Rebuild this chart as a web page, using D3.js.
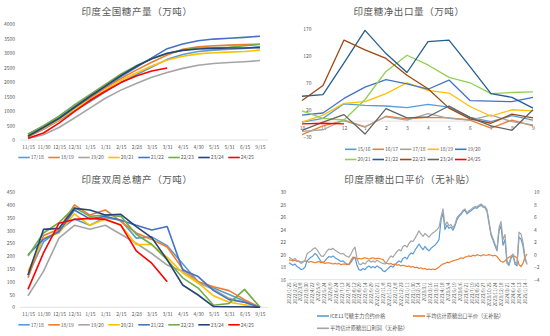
<!DOCTYPE html>
<html>
<head>
<meta charset="utf-8">
<script src="https://cdn.jsdelivr.net/npm/d3@7"></script>
<style>
  body { margin: 0; background: #fff; }
  svg { display: block; font-family: "Noto Sans CJK SC", "Noto Sans", sans-serif; }
</style>
</head>
<body>
<svg id="chart" width="550" height="336"></svg>
<script>

///// Data

// half-month periods (panels 1 and 3)
let periodLabels = ["11/15", "11/30", "12/15", "12/31", "1/15", "1/31", "2/15", "2/28",
    "3/15", "3/31", "4/15", "4/30", "5/15", "5/31", "6/15", "9/15"];
let prodSeasons = ["17/18", "18/19", "19/20", "20/21", "21/22", "22/23", "23/24", "24/25"];

// cumulative production, 10k t
let cum1718 = [120, 370, 670, 1010, 1320, 1660, 1980, 2250, 2520, 2780, 2950, 3050, 3100, 3130, 3160, 3220];
let cum1819 = [110, 390, 700, 1090, 1440, 1800, 2120, 2410, 2680, 2930, 3130, 3210, 3250, 3270, 3290, 3300];
let cum1920 = [50, 180, 430, 760, 1100, 1440, 1720, 1950, 2160, 2330, 2470, 2580, 2640, 2670, 2700, 2740];
let cum2021 = [140, 410, 700, 1060, 1380, 1730, 2060, 2310, 2550, 2760, 2890, 2970, 3010, 3030, 3050, 3100];
let cum2122 = [200, 470, 770, 1150, 1500, 1850, 2190, 2510, 2830, 3150, 3310, 3420, 3480, 3510, 3540, 3580];
let cum2223 = [200, 490, 820, 1210, 1560, 1920, 2270, 2560, 2800, 2980, 3100, 3170, 3190, 3200, 3250, 3300];
let cum2324 = [130, 430, 740, 1120, 1500, 1860, 2220, 2540, 2800, 2990, 3090, 3140, 3160, 3170, 3175, 3185];
let cum2425 = [60, 240, 580, 980, 1360, 1680, 1980, 2210, 2380, 2480];

// biweekly production, 10k t
let bi1718 = [125, 255, 300, 345, 320, 350, 340, 270, 275, 240, 170, 100, 75, 50, 25, 0];
let bi1819 = [115, 280, 305, 400, 360, 380, 335, 290, 265, 235, 150, 100, 80, 65, 30, 0];
let bi1920 = [45, 140, 270, 320, 305, 320, 285, 250, 210, 165, 140, 95, 70, 35, 20, 0];
let bi2021 = [140, 270, 290, 365, 320, 345, 320, 245, 245, 195, 135, 95, 45, 20, 10, 0];
let bi2122 = [205, 265, 295, 380, 345, 355, 340, 320, 302, 315, 146, 120, 65, 30, 20, 0];
let bi2223 = [200, 290, 330, 390, 355, 360, 355, 285, 245, 185, 115, 75, 8, 15, 70, 0];
let bi2324 = [126, 304, 308, 386, 380, 360, 363, 315, 272, 185, 87, 48, 3, 2, 2, 0];
let bi2425 = [70, 212, 328, 343, 347, 343, 321, 220, 172, 100];

let cumTicks = [0, 500, 1000, 1500, 2000, 2500, 3000, 3500, 4000];
let biTicks = [0, 50, 100, 150, 200, 250, 300, 350, 400, 450];

// net exports by month, 10k t
let months = ["10", "11", "12", "1", "2", "3", "4", "5", "6", "7", "8", "9"];
let exportSeasons = ["15/16", "16/17", "17/18", "18/19", "19/20", "20/21", "21/22", "22/23", "23/24", "24/25"];
let exp1516 = [-2, 5, 32, 29, 28, 25, 31, 26, 7, -1, 10, 2];
let exp1617 = [-25, -9, 1, -11, 9, 4, 7, 6, 2, -13, 2, -9];
let exp1718 = [-19, -16, 2, -10, 8, 2, 14, 5, 2, 11, -1, -7];
let exp1819 = [-2, 11, 33, 36, 51, 71, 57, 52, 27, 9, 21, 19];
let exp1920 = [11, 15, 42, 63, 77, 69, 59, 76, 38, 37, 36, 44];
let exp2021 = [19, 5, 2, 40, 92, 122, 104, 81, 71, 51, 53, 54];
let exp2122 = [46, 49, 108, 168, 125, 90, 147, 150, 101, 51, 44, 24];
let exp2223 = [38, 66, 150, 132, 116, 85, 60, 24, 4, -4, 13, 6];
let exp2324 = [-17, -2, 12, -24, 23, 6, 8, 28, 7, -9, -17, 21];
let exp2425 = [-5, -4, -5];
let expTicks = [-30, 20, 70, 120, 170];

// export parity: ICE No.11 (c/lb), parity price (c/lb), profit (c/lb, right axis)
let priceDates = ["2022/1/25", "2022/2/20", "2022/3/8", "2022/3/30", "2022/4/22", "2022/5/9", "2022/5/24",
    "2022/6/9", "2022/6/24", "2022/7/13", "2022/7/28", "2022/8/12", "2022/8/29", "2022/9/14", "2022/9/29",
    "2022/10/21", "2022/11/8", "2022/11/23", "2022/12/8", "2022/12/23", "2023/1/11", "2023/1/30",
    "2023/2/14", "2023/3/1", "2023/3/16", "2023/3/31", "2023/4/18", "2023/5/4", "2023/5/19", "2023/6/6",
    "2023/6/21", "2023/7/19", "2023/8/25", "2023/9/27", "2023/10/25", "2023/11/24", "2023/12/18",
    "2024/3/21", "2024/6/14", "2024/9/13", "2025/1/14"];
let ice11 = [
    18.7, 18.5, 18.3, 18.5, 18.1, 17.9, 17.6, 17.7, 18.0, 19.0,
    19.3, 19.6, 19.8, 20.2, 19.9, 19.4, 18.9, 18.7, 19.0, 19.4,
    19.7, 19.6, 19.8, 19.5, 19.3, 19.1, 18.9, 19.0, 18.7, 18.5,
    18.4, 18.8, 19.3, 19.6, 18.3, 17.6, 17.5, 17.8, 17.6, 18.0,
    18.2, 17.9, 18.1, 17.9, 18.2, 18.0, 17.8, 17.4, 17.3, 17.6,
    17.9, 18.2, 18.0, 18.4, 18.7, 19.0, 18.8, 19.4, 19.6, 19.3,
    19.9, 20.3, 20.1, 20.7, 21.2, 21.7, 21.2, 20.8, 21.3, 20.9,
    20.6, 21.0, 21.3, 21.5, 21.9, 22.4, 25.5, 26.6, 24.0, 24.7,
    24.2, 24.4, 23.9, 24.6, 25.6, 26.1, 26.4, 26.9, 27.1, 26.5,
    26.8, 27.0, 27.3, 27.5, 27.4, 27.7, 27.9, 27.6, 27.5, 26.9,
    25.0, 23.1, 22.3, 21.4, 20.6, 23.8, 24.6, 21.5, 22.4, 18.6,
    18.3, 19.4, 19.9, 18.5, 18.2, 22.8, 22.5, 21.4, 19.2, 18.6];
let parity = [
    19.2, 19.1, 19.0, 19.1, 18.9, 19.0, 18.8, 18.9, 19.0, 18.9,
    18.8, 18.9, 18.8, 18.7, 18.8, 18.9, 18.7, 18.8, 18.6, 18.7,
    18.7, 18.6, 18.5, 18.6, 18.5, 18.6, 18.4, 18.5, 18.5, 18.4,
    18.5, 19.1, 19.6, 19.5, 19.3, 19.4, 19.3, 19.4, 19.5, 19.4,
    19.3, 19.4, 19.5, 19.3, 19.4, 19.4, 19.3, 19.2, 18.8, 18.6,
    18.5, 18.6, 18.4, 18.5, 18.3, 18.4, 18.2, 18.3, 18.2, 18.1,
    18.2, 18.0, 18.1, 17.9, 18.0, 17.8, 17.9, 17.7, 17.8, 17.6,
    17.7, 17.6, 17.7, 17.6, 17.8, 18.0, 18.3, 18.5, 18.6, 18.8,
    18.7, 18.9, 19.0, 19.1, 19.2, 19.3, 19.5, 19.4, 19.6, 19.7,
    19.8, 19.7, 19.9, 19.8, 20.0, 19.9, 19.8, 20.0, 19.9, 19.9,
    20.0, 19.9, 19.8, 19.9, 19.7, 19.3, 18.9, 18.8, 19.0, 19.4,
    19.6, 19.8, 19.9, 19.7, 19.5, 18.4, 18.1, 18.6, 19.6, 20.1];
let profit = [
    -0.4, -0.6, -0.8, -0.6, -1.0, -1.1, -1.4, -1.2, -0.9, 0.1,
    0.4, 0.6, 0.9, 1.1, 0.8, 0.3, -0.2, -0.3, 0.1, 0.6,
    0.9, 0.8, 1.0, 0.7, 0.5, 0.3, 0.1, 0.2, -0.1, -0.3,
    -0.4, 0.1, 0.8, 1.2, -0.6, -1.5, -1.6, -1.3, -1.5, -1.1,
    -0.9, -1.2, -1.0, -1.2, -0.9, -1.1, -1.3, -1.4, -1.5, -1.1,
    -0.6, -0.2, -0.4, 0.1, 0.5, 0.8, 0.6, 1.3, 1.5, 1.2,
    1.8, 2.2, 2.1, 2.6, 3.2, 3.8, 3.3, 2.9, 3.4, 3.1,
    2.8, 3.2, 3.5, 3.7, 4.0, 4.4, 6.0, 7.3, 4.6, 5.2,
    4.6, 4.8, 4.3, 4.9, 5.9, 6.3, 6.6, 7.1, 7.3, 6.7,
    7.0, 7.2, 7.5, 7.7, 7.6, 7.9, 8.1, 7.8, 7.7, 7.2,
    5.3, 3.4, 2.6, 1.7, 0.9, 4.3, 5.3, 2.4, 3.2, -1.0,
    -1.5, -0.3, 0.1, -1.2, -1.5, 3.6, 3.3, 2.0, -0.3, -1.6];
let priceTicks = [16, 18, 20, 22, 24, 26, 28, 30];
let profitTicks = [-4, -2, 0, 2, 4, 6, 8, 10];
let priceNames = ["ICE11号糖主力合约价格", "平均估计原糖出口平价（无补贴）", "平均估计原糖出口利润（无补贴）"];


///// Styles

let prodColors = ["#5b9bd5", "#ed7d31", "#a5a5a5", "#ffc000", "#4472c4", "#70ad47", "#264478", "#ff0000"];
let expColors = ["#5b9bd5", "#ed7d31", "#a5a5a5", "#ffc000", "#4472c4", "#92d050", "#255e91", "#9e480e", "#636363", "#ff0000"];
let priceColors = ["#5b9bd5", "#ed7d31", "#a5a5a5"];
let textColor = "#595959";
let lineColor = "#d9d9d9";
let plain = d3.format("d");

let svg = d3.select("#chart");

function seriesList(names, arrays, colors) {
    return names.map(function(n, i) { return { name: n, values: arrays[i], color: colors[i] }; });
}

let cumSeries = seriesList(prodSeasons, [cum1718, cum1819, cum1920, cum2021, cum2122, cum2223, cum2324, cum2425], prodColors);
let biSeries = seriesList(prodSeasons, [bi1718, bi1819, bi1920, bi2021, bi2122, bi2223, bi2324, bi2425], prodColors);
let expSeries = seriesList(exportSeasons, [exp1516, exp1617, exp1718, exp1819, exp1920, exp2021, exp2122, exp2223, exp2324, exp2425], expColors);


///// Helpers

function title(cx, y, text) {
    svg.append("text")
        .attr("x", cx).attr("y", y)
        .attr("text-anchor", "middle")
        .attr("font-size", 9.5)
        .attr("letter-spacing", 0.6)
        .attr("fill", textColor)
        .text(text);
}

function styleAxis(g, size) {
    g.attr("font-family", null).attr("font-size", size);
    g.select(".domain").remove();
    g.selectAll("text").attr("fill", textColor);
}

function hline(x1, x2, y) {
    svg.append("line")
        .attr("x1", x1).attr("x2", x2).attr("y1", y).attr("y2", y)
        .attr("stroke", lineColor).attr("stroke-width", 0.8);
}

function drawLines(series, xPos, y, width) {
    let line = d3.line()
        .x(function(d, i) { return xPos(i); })
        .y(function(d) { return y(d); });
    svg.append("g").selectAll("path")
        .data(series)
        .enter().append("path")
        .attr("d", function(s) { return line(s.values); })
        .attr("fill", "none")
        .attr("stroke", function(s) { return s.color; })
        .attr("stroke-width", width)
        .attr("stroke-linejoin", "round");
}

function legendRow(items, x0, step, y) {
    items.forEach(function(s, k) {
        let gx = x0 + k * step;
        svg.append("line")
            .attr("x1", gx).attr("x2", gx + 11.5).attr("y1", y).attr("y2", y)
            .attr("stroke", s.color).attr("stroke-width", 1.6);
        svg.append("text")
            .attr("x", gx + 12.5).attr("y", y).attr("dy", "0.35em")
            .attr("font-size", 5).attr("fill", textColor)
            .text(s.name);
    });
}

// shared layout of the two production panels
function productionPanel(series, top, bottom, maxVal, ticks, name) {
    let x = d3.scalePoint().domain(periodLabels).range([28, 260]);
    let y = d3.scaleLinear().domain([0, maxVal]).range([bottom, top]);

    title(137, top - 9, name);
    hline(20, 268, bottom);

    svg.append("g")
        .attr("transform", "translate(16,0)")
        .call(d3.axisLeft(y).tickValues(ticks).tickFormat(plain).tickSize(0).tickPadding(1))
        .call(styleAxis, 5);

    svg.append("g")
        .attr("transform", "translate(0," + bottom + ")")
        .call(d3.axisBottom(x).tickSize(0).tickPadding(5))
        .call(styleAxis, 5);

    drawLines(series, function(i) { return x(periodLabels[i]); }, y, 1.6);
    legendRow(series, 18.3, 30, bottom + 17.5);
}


////// Panel 1: cumulative production

productionPanel(cumSeries, 24, 140, 4000, cumTicks, "印度全国糖产量（万吨）");


////// Panel 3: biweekly production

productionPanel(biSeries, 192, 307.3, 450, biTicks, "印度双周总糖产（万吨）");


////// Panel 2: net exports

let xm = d3.scalePoint().domain(months).range([302, 533]);
let ye = d3.scaleLinear().domain([-30, 170]).range([137.3, 29.3]);

title(409, 15, "印度糖净出口量（万吨）");
hline(302, 533, ye(0));

svg.append("g")
    .attr("transform", "translate(312.5,0)")
    .call(d3.axisLeft(ye).tickValues(expTicks).tickFormat(plain).tickSize(0).tickPadding(1))
    .call(styleAxis, 5);

svg.append("g")
    .attr("transform", "translate(0," + ye(0) + ")")
    .call(d3.axisBottom(xm).tickSize(0).tickPadding(5))
    .call(styleAxis, 5);

drawLines(expSeries, function(i) { return xm(months[i]); }, ye, 1.3);
legendRow(expSeries.slice(0, 5), 345, 27.5, 149.3);
legendRow(expSeries.slice(5), 345, 27.5, 159.5);


////// Panel 4: export parity

let xi = d3.scaleLinear().domain([0, ice11.length - 1]).range([289, 527]);
let xd = d3.scalePoint().domain(priceDates).range([289, 525]);
let yl = d3.scaleLinear().domain([16, 30]).range([279.7, 192]);
let yr = d3.scaleLinear().domain([-4, 10]).range([279.7, 192]);

title(410, 183, "印度原糖出口平价（无补贴）");
hline(289, 527, 279.7);

svg.append("g")
    .attr("transform", "translate(287,0)")
    .call(d3.axisLeft(yl).tickValues(priceTicks).tickFormat(plain).tickSize(0).tickPadding(1))
    .call(styleAxis, 5);

svg.append("g")
    .attr("transform", "translate(533,0)")
    .call(d3.axisRight(yr).tickValues(profitTicks).tickFormat(plain).tickSize(0).tickPadding(1))
    .call(styleAxis, 5);

svg.append("g").selectAll("text")
    .data(priceDates)
    .enter().append("text")
    .attr("transform", function(d) { return "translate(" + xd(d) + ",282.5) rotate(-90)"; })
    .attr("text-anchor", "end")
    .attr("dy", "0.35em")
    .attr("font-size", 4.6)
    .attr("fill", textColor)
    .text(function(d) { return d; });

drawLines([{ values: ice11, color: priceColors[0] }, { values: parity, color: priceColors[1] }],
    xi, yl, 1.2);
drawLines([{ values: profit, color: priceColors[2] }], xi, yr, 1.2);

// legend
[[317, 316, 0], [413, 316, 1], [317, 328.3, 2]].forEach(function(p) {
    svg.append("line")
        .attr("x1", p[0]).attr("x2", p[0] + 12).attr("y1", p[1]).attr("y2", p[1])
        .attr("stroke", priceColors[p[2]]).attr("stroke-width", 1.6);
    svg.append("text")
        .attr("x", p[0] + 13).attr("y", p[1]).attr("dy", "0.35em")
        .attr("font-size", 5.2).attr("fill", textColor)
        .text(priceNames[p[2]]);
});

</script>
</body>
</html>
